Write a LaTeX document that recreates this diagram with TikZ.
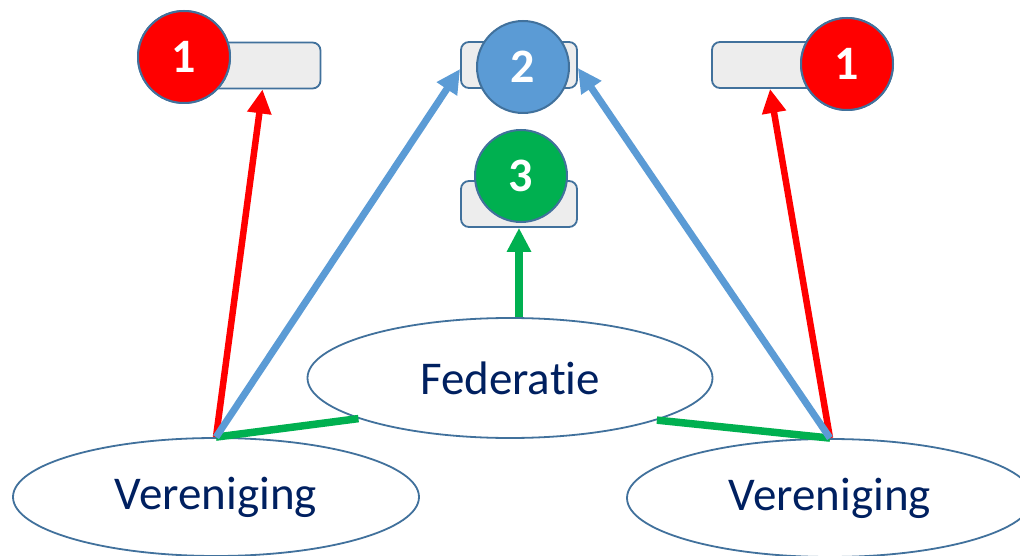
\documentclass[tikz,border=0pt]{standalone}
\usepackage{fontspec}
\setmainfont{Carlito}[Ligatures=NoCommon,Contextuals=NoAlternate]
\usetikzlibrary{shapes.geometric,arrows.meta}
\definecolor{edge}{HTML}{41719C}
\definecolor{navy}{HTML}{002060}
\definecolor{boxfill}{HTML}{EDEDED}
\definecolor{cred}{HTML}{FF0000}
\definecolor{cblue}{HTML}{5B9BD5}
\definecolor{cgreen}{HTML}{00B050}
\tikzset{
  party/.style={ellipse, draw=edge, line width=1.8pt, fill=white,
    minimum width=#1, minimum height=118pt, inner sep=0pt,
    text=navy, font=\fontsize{47}{50}\selectfont},
  party/.default=406pt,
  seat/.style={rectangle, rounded corners=8pt, draw=edge, line width=1.8pt,
    fill=boxfill, minimum width=116pt, minimum height=46pt, inner sep=0pt},
  badge/.style={circle, draw=edge, line width=2pt, fill=#1,
    minimum size=92pt, inner sep=0pt, text=white,
    font=\fontsize{48}{50}\selectfont\bfseries},
  link/.style={line width=#1, -{Triangle[length=24pt,width=23pt]}},
  tie/.style={draw=cgreen, line width=7.5pt}
}
\begin{document}
\begin{tikzpicture}[x=1pt,y=-1pt]
\useasboundingbox[fill=white] (0,0) rectangle (1020,556);

% member and umbrella organisations
\node[party] (vl) at (216,497) {Vereniging};
\node[party] (vr) at (830,498) {Vereniging};
\node[party=405pt, minimum height=120pt] (fed) at (510,378) {Federat\kern0pt ie};

% seats with their numbered badges
\node[seat] (s1l) at (262.5,65.5) {};
\node[badge=cred] (c1l) at (184,57) {1};
\node[seat] (s2) at (519,65) {};
\node[badge=cblue] (c2) at (523,67) {2};
\node[seat] (s3) at (519,204) {};
\node[badge=cgreen] (c3) at (521,176) {3};
\node[seat] (s1r) at (770,65) {};
\node[badge=cred] (c1r) at (847,64) {1};

% links between federation and members
\draw[tie] (vl.north) -- (fed.195.6);
\draw[tie] (fed.344) -- (vr.north);

% representation arrows
\draw[link=6.5pt, cred] (vl.north) -- (s1l.south);
\draw[link=6.5pt, cred] (vr.north) -- (s1r.south);
\draw[link=7pt, cblue] (vl.north) -- ([yshift=-4pt]s2.west);
\draw[link=7pt, cblue] (vr.north) -- ([yshift=-3pt]s2.east);
\draw[link=7.5pt, cgreen] (s3.south |- fed.north) -- (s3.south);

% badges drawn again above the arrow tips
\node[badge=cred] at (c1l) {1};
\node[badge=cred] at (c1r) {1};
\end{tikzpicture}
\end{document}
